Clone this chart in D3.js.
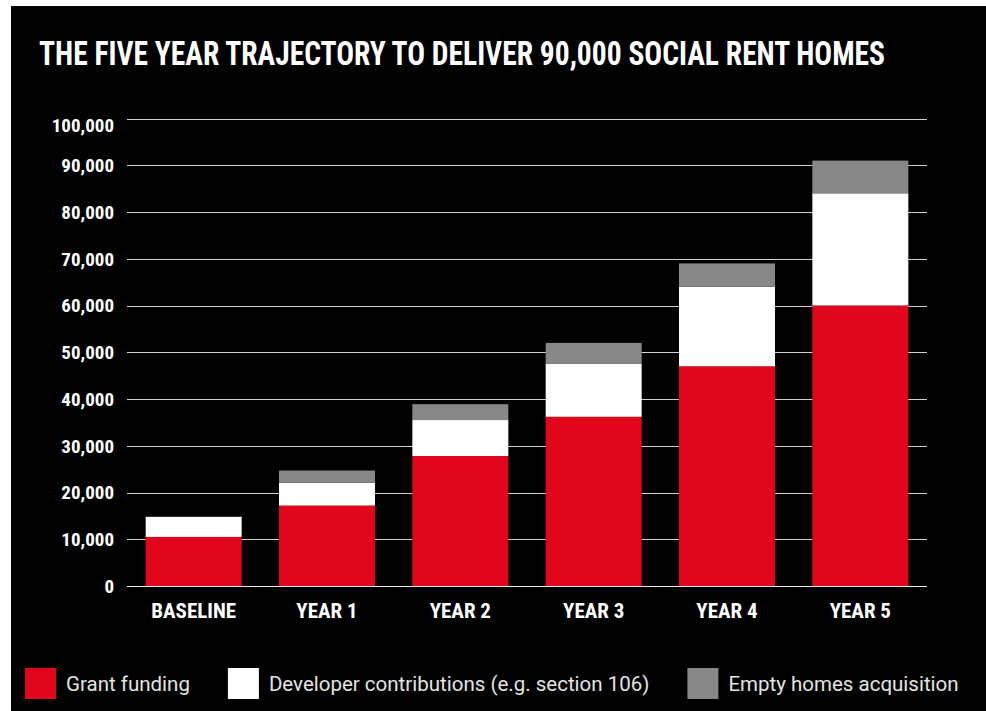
<!DOCTYPE html>
<html lang="en">
<head>
<meta charset="UTF-8">
<title>The five year trajectory to deliver 90,000 social rent homes</title>
<style>
body { margin: 0; background: #fff; }
.cond { font-family: "Roboto Condensed", "Liberation Sans Narrow", "DejaVu Sans Condensed", "DejaVu Sans", sans-serif; font-stretch: condensed; font-weight: bold; }
.legend text { font-family: Roboto, "Noto Sans", sans-serif; font-size: 20.5px; fill: #e4e4e4; }
</style>
</head>
<body>
<svg id="chart"></svg>
<script src="https://cdn.jsdelivr.net/npm/d3@7"></script>
<script>
// values
const periods = ["BASELINE", "YEAR 1", "YEAR 2", "YEAR 3", "YEAR 4", "YEAR 5"];
const grantFunding = [10500, 17200, 27800, 36200, 47000, 60000];
const developerContrib = [4300, 4900, 7700, 11300, 17000, 24000];
const emptyHomes = [0, 2600, 3400, 4500, 5000, 7000];
const seriesNames = ["Grant funding", "Developer contributions (e.g. section 106)", "Empty homes acquisition"];
const seriesColors = ["#e2061c", "#ffffff", "#878787"];
const yTicks = [0, 10000, 20000, 30000, 40000, 50000, 60000, 70000, 80000, 90000, 100000];

const width = 986, height = 711;
const keys = ["grant", "dev", "empty"];
const rows = periods.map((p, i) => ({ period: p, grant: grantFunding[i], dev: developerContrib[i], empty: emptyHomes[i] }));

const svg = d3.select("#chart").attr("width", width).attr("height", height);

// black panel
svg.append("rect")
  .attr("x", 11).attr("y", 6)
  .attr("width", width - 11).attr("height", height - 6)
  .attr("fill", "#000");

svg.append("text")
  .attr("class", "cond")
  .attr("x", 39).attr("y", 65)
  .attr("fill", "#fff")
  .style("font-size", "33px")
  .attr("textLength", 846)
  .attr("lengthAdjust", "spacingAndGlyphs")
  .text("THE FIVE YEAR TRAJECTORY TO DELIVER 90,000 SOCIAL RENT HOMES");

const x = d3.scaleBand()
  .domain(periods)
  .range([127, 927])
  .paddingInner(0.28)
  .paddingOuter(0.14);

const y = d3.scaleLinear()
  .domain([0, 100000])
  .range([586, 118.5]);

// gridlines
svg.append("g")
  .selectAll("line")
  .data(yTicks)
  .join("line")
  .attr("x1", 127).attr("x2", 927)
  .attr("y1", d => Math.round(y(d)) + 0.5)
  .attr("y2", d => Math.round(y(d)) + 0.5)
  .attr("stroke", d => d === 0 ? "#e8e8e8" : "#cfcfcf")
  .attr("stroke-width", 1.2);

// y labels
svg.append("g")
  .selectAll("text")
  .data(yTicks)
  .join("text")
  .attr("class", "cond")
  .attr("x", 114)
  .attr("y", d => y(d) + (d === 100000 ? 7 : 0))
  .attr("dy", "0.36em")
  .attr("text-anchor", "end")
  .attr("fill", "#fff")
  .style("font-size", "19px")
  .text(d => d3.format(",")(d));

const stacked = d3.stack().keys(keys)(rows);

svg.append("g")
  .selectAll("g")
  .data(stacked)
  .join("g")
  .attr("fill", (d, i) => seriesColors[i])
  .selectAll("rect")
  .data(d => d)
  .join("rect")
  .attr("x", d => x(d.data.period))
  .attr("width", x.bandwidth())
  .attr("y", d => y(d[1]))
  .attr("height", d => y(d[0]) - y(d[1]));

// x labels
svg.append("g")
  .selectAll("text")
  .data(periods)
  .join("text")
  .attr("class", "cond")
  .attr("x", d => x(d) + x.bandwidth() / 2)
  .attr("y", 618)
  .attr("text-anchor", "middle")
  .attr("fill", "#fff")
  .style("font-size", "21px")
  .text(d => d);

// legend
const legend = svg.append("g").attr("class", "legend");
let lx = 25;
seriesNames.forEach((name, i) => {
  legend.append("rect")
    .attr("x", lx).attr("y", 668)
    .attr("width", 31).attr("height", 31)
    .attr("fill", seriesColors[i]);
  const t = legend.append("text")
    .attr("x", lx + 41).attr("y", 690.5)
    .text(name);
  lx += 41 + t.node().getComputedTextLength() + 38;
});
</script>
</body>
</html>
